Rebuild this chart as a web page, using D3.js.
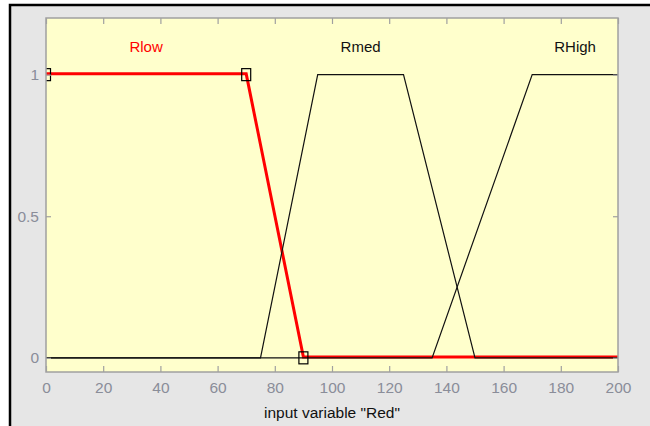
<!DOCTYPE html>
<html><head><meta charset="utf-8">
<script src="https://cdn.jsdelivr.net/npm/d3@7"></script>
<style>
html,body{margin:0;padding:0;background:#fff;}
svg{display:block;}
text{font-family:"Liberation Sans",Arial,sans-serif;}
</style></head>
<body>
<script>
// ---- data ----
const mfNames = ["Rlow", "Rmed", "RHigh"];
const mfParams = [[0, 0, 70, 90], [75, 95, 125, 150], [135, 170, 200, 200]];
const selectedMF = "Rlow";
const xTicks = [0, 20, 40, 60, 80, 100, 120, 140, 160, 180, 200];
const yTicks = [0, 0.5, 1];
const yTickLabels = ["0", "0.5", "1"];
const xRange = [0, 200];
const yRange = [-0.05, 1.2];
const axisTitle = 'input variable "Red"';

// ---- layout ----
const W = 650, H = 426;
const L = 46, R = 618, T = 18, B = 372;

const svg = d3.select("body").append("svg").attr("width", W).attr("height", H);
svg.append("rect").attr("x", 0).attr("y", 0).attr("width", W).attr("height", H).attr("fill", "#ffffff");
svg.append("rect").attr("x", 10).attr("y", 5).attr("width", W + 20).attr("height", H + 20)
  .attr("fill", "#e6e6e6").attr("stroke", "#000").attr("stroke-width", 2.5);

const x = d3.scaleLinear().domain(xRange).range([L, R]);
const y = d3.scaleLinear().domain(yRange).range([B, T]);

svg.append("rect").attr("x", L).attr("y", T).attr("width", R - L).attr("height", B - T)
  .attr("fill", "#ffffcc");

svg.append("defs").append("clipPath").attr("id", "clip")
  .append("rect").attr("x", L).attr("y", T).attr("width", R - L).attr("height", B - T);

function trap(v, p) {
  const [a, b, c, d] = p;
  const up = b > a ? (v - a) / (b - a) : (v >= a ? 1 : 0);
  const down = d > c ? (d - v) / (d - c) : (v <= d ? 1 : 0);
  return Math.max(0, Math.min(up, 1, down));
}
function mfPoints(p) {
  const xs = [xRange[0], ...p, xRange[1]].filter(v => v >= xRange[0] && v <= xRange[1]).sort((a, b) => a - b);
  return xs.map(v => [v, trap(v, p)]);
}
const line = d3.line().x(d => x(d[0])).y(d => y(d[1]));

const g = svg.append("g").attr("clip-path", "url(#clip)");
const selIdx = mfNames.indexOf(selectedMF);

// selected MF (red, thick) first
g.append("path").datum(mfPoints(mfParams[selIdx])).attr("d", line)
  .attr("fill", "none").attr("stroke", "#ff0000").attr("stroke-width", 3)
  .attr("transform", "translate(0,-0.8)");
mfParams.forEach((p, i) => {
  if (i === selIdx) return;
  g.append("path").datum(mfPoints(p)).attr("d", line)
    .attr("fill", "none").attr("stroke", "#111").attr("stroke-width", 1.2);
});
// markers on selected MF
const sp = mfParams[selIdx];
const markerPts = [[sp[1], 1], [sp[2], 1], [sp[3], 0]];
g.selectAll("rect.mk").data(markerPts).join("rect").attr("class", "mk")
  .attr("x", d => x(d[0]) - 4.5).attr("y", d => y(d[1]) - 6)
  .attr("width", 9).attr("height", 12)
  .attr("fill", "none").attr("stroke", "#000").attr("stroke-width", 1.2);

// MF labels
svg.selectAll("text.mfl").data(mfNames).join("text").attr("class", "mfl")
  .attr("x", (d, i) => x((mfParams[i][1] + mfParams[i][2]) / 2))
  .attr("y", y(1.1) + 5.5)
  .attr("text-anchor", "middle")
  .attr("font-size", 15)
  .attr("fill", (d, i) => i === selIdx ? "#ff0000" : "#111")
  .text(d => d);

// axes frame
svg.append("rect").attr("x", L).attr("y", T).attr("width", R - L).attr("height", B - T)
  .attr("fill", "none").attr("stroke", "#a0a0a0").attr("stroke-width", 1.5);

const tickColor = "#a0a0a0";
const axB = svg.append("g").attr("transform", `translate(0,${B})`)
  .call(d3.axisBottom(x).tickValues(xTicks).tickSizeInner(-6).tickSizeOuter(0).tickPadding(10));
const axT = svg.append("g").attr("transform", `translate(0,${T})`)
  .call(d3.axisTop(x).tickValues(xTicks).tickSizeInner(-6).tickSizeOuter(0).tickFormat(""));
const axL = svg.append("g").attr("transform", `translate(${L},0)`)
  .call(d3.axisLeft(y).tickValues(yTicks).tickSizeInner(-5).tickSizeOuter(0).tickPadding(7)
    .tickFormat((d, i) => yTickLabels[i]));
const axR = svg.append("g").attr("transform", `translate(${R},0)`)
  .call(d3.axisRight(y).tickValues(yTicks).tickSizeInner(-5).tickSizeOuter(0).tickFormat(""));
[axB, axT, axL, axR].forEach(a => {
  a.select(".domain").remove();
  a.selectAll(".tick line").attr("stroke", tickColor).attr("stroke-width", 1.2);
  a.selectAll(".tick text").attr("fill", "#8a8d99").attr("font-size", 15.5)
    .attr("font-family", '"Liberation Sans",Arial,sans-serif');
});

svg.append("text").attr("x", (L + R) / 2).attr("y", 418).attr("text-anchor", "middle")
  .attr("font-size", 15.5).attr("fill", "#111").text(axisTitle);
</script>
</body></html>
